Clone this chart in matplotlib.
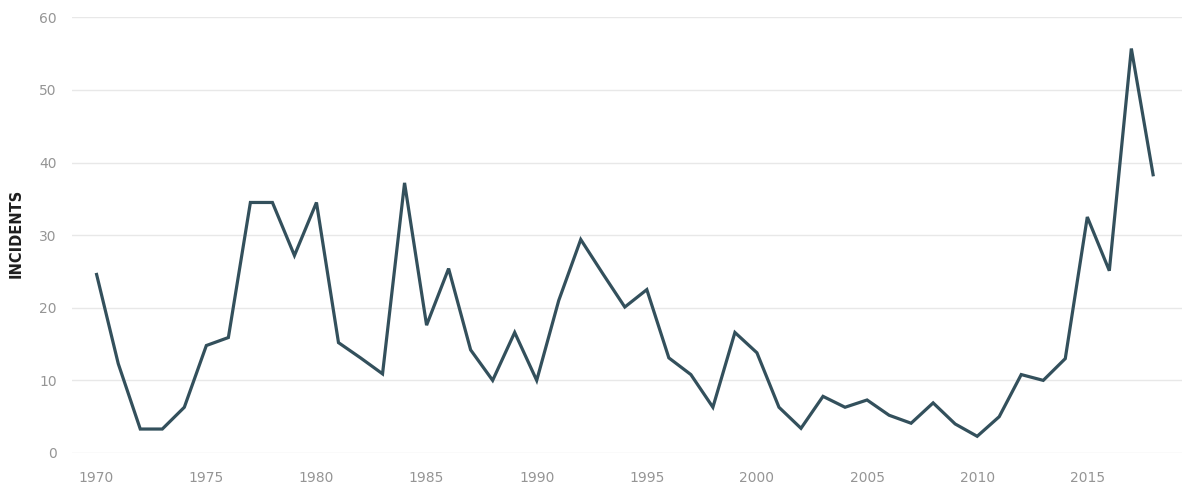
import matplotlib
matplotlib.use("Agg")
import matplotlib.pyplot as plt

years = list(range(1970, 2019))
incidents = [24.8, 12.3, 3.3, 3.3, 6.3, 14.8, 15.9, 34.5, 34.5, 27.2,
             34.5, 15.2, 13.1, 10.9, 37.2, 17.6, 25.4, 14.2, 10.0, 16.6,
             10.0, 21.0, 29.4, 24.7, 20.1, 22.5, 13.1, 10.8, 6.3, 16.6,
             13.8, 6.3, 3.4, 7.8, 6.3, 7.3, 5.2, 4.1, 6.9, 4.0,
             2.3, 5.0, 10.8, 10.0, 13.0, 32.5, 25.1, 55.7, 38.1]
x_ticks = [1970, 1975, 1980, 1985, 1990, 1995, 2000, 2005, 2010, 2015]
y_ticks = [0, 10, 20, 30, 40, 50, 60]

plt.rcParams['font.family'] = ['DejaVu Sans']

fig = plt.figure(figsize=(11.82, 4.92), dpi=100)
ax_w = 1 - 72 / 1182
ax = fig.add_axes([72 / 1182, 1 - 453 / 492, ax_w, (453 - 17.3) / 492])

ax.plot(years, incidents, color='#33505c', linewidth=2.3, solid_joinstyle='miter',
        solid_capstyle='butt', zorder=3)

ax.set_xlim(1968.9, 2019.3)
ax.set_ylim(0, 60)
ax.set_xticks(x_ticks)
ax.set_yticks(y_ticks)
ax.tick_params(axis='both', length=0, labelsize=10, labelcolor='#959595')
ax.tick_params(axis='x', pad=13)
ax.tick_params(axis='y', pad=11)

ax.grid(axis='y', color='#e8e8e8', linewidth=1.0)
ax.grid(axis='x', visible=False)
ax.set_axisbelow(True)
for s in ax.spines.values():
    s.set_visible(False)

ax.set_ylabel('INCIDENTS', fontsize=10.5, fontweight='heavy', color='#1e1e1e')
ax.yaxis.set_label_coords(-48 / (ax_w * 1182), 0.505)

fig.savefig('out.png', dpi=100, facecolor='white')
